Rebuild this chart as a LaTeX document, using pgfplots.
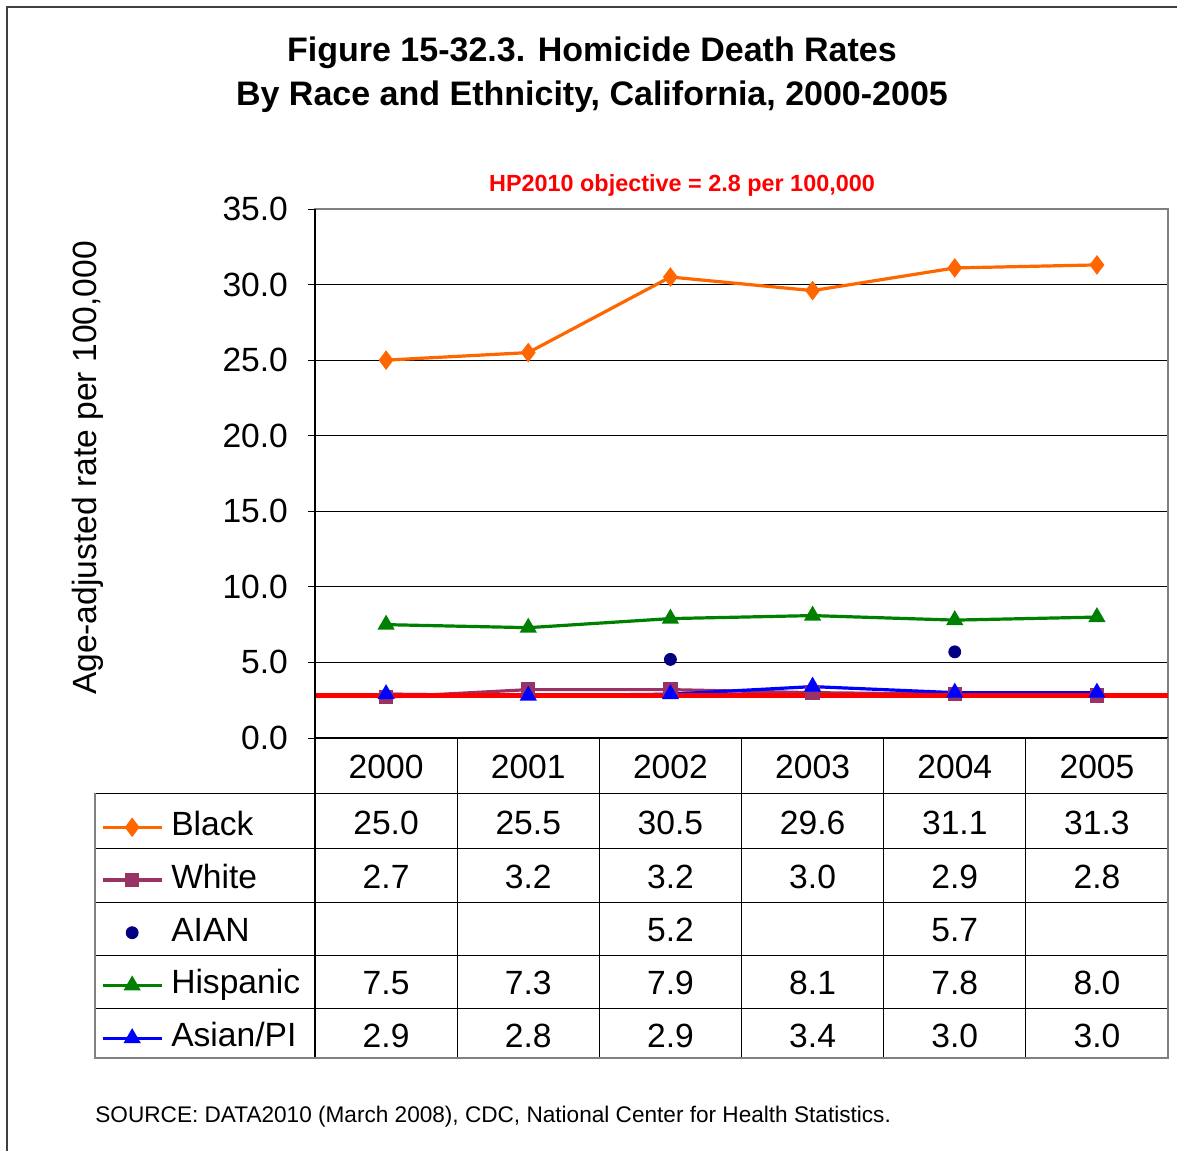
\documentclass[border=0pt]{standalone}
\usepackage{fontspec}
\setmainfont{Liberation Sans}
\usepackage{pgfplots}
\pgfplotsset{compat=1.18}

\definecolor{cBlack}{RGB}{255,102,0}
\definecolor{cWhite}{RGB}{153,51,102}
\definecolor{cAIAN}{RGB}{0,0,128}
\definecolor{cHisp}{RGB}{0,128,0}
\definecolor{cAsian}{RGB}{0,0,255}
\definecolor{frame}{RGB}{128,128,128}
\newcommand{\mainsize}{\fontsize{16.8}{20}\selectfont}
\pgfplotsset{
  linekey/.style={legend image code/.code={\draw[##1, mark repeat=2, mark phase=2] plot coordinates {(0pt,0pt) (14.75pt,0pt) (29.5pt,0pt)};}},
  dotkey/.style={legend image code/.code={\draw[##1] plot coordinates {(14.75pt,0pt)};}},
}

\begin{document}
\begin{tikzpicture}
\begin{axis}[
  scale only axis, width=426.5pt, height=264.5pt,
  xmin=-0.5, xmax=5.5, ymin=0, ymax=35,
  xtick=\empty, ytick={0,5,...,35},
  ymajorgrids, grid style={black, line width=0.5pt},
  ytick pos=left, tick align=outside, major tick length=3.5pt,
  tick style={black, line width=0.5pt},
  axis line style={frame, line width=1pt},
  /pgf/number format/fixed, /pgf/number format/fixed zerofill,
  /pgf/number format/precision=1, /pgf/number format/assume math mode=true,
  yticklabel style={font=\mainsize, xshift=-6.5pt},
  legend style={at={(-0.2508,-0.1190)}, anchor=north west, draw=none, fill=none,
    inner sep=0pt, outer sep=0pt, row sep=0pt, column sep=4pt, font=\mainsize,
    nodes={inner sep=0pt, minimum height=26.35pt, text height=12pt, text depth=3.5pt}},
  legend cell align=left,
  linekey,
]
\addplot[cBlack, line width=1.6pt, mark=diamond*, mark size=3.6pt, mark options={solid}]
  coordinates {(0,25.0) (1,25.5) (2,30.5) (3,29.6) (4,31.1) (5,31.3)};
\addlegendentry{Black}
\addplot[cWhite, line width=1.6pt, mark=square*, mark size=2.8pt, mark options={solid}]
  coordinates {(0,2.7) (1,3.2) (2,3.2) (3,3.0) (4,2.9) (5,2.8)};
\addlegendentry{White}
\addplot[cAIAN, only marks, mark=*, mark size=3pt, dotkey]
  coordinates {(2,5.2) (4,5.7)};
\addlegendentry{AIAN}
\addplot[cHisp, line width=1.6pt, mark=triangle*, mark size=3.4pt, mark options={solid}]
  coordinates {(0,7.5) (1,7.3) (2,7.9) (3,8.1) (4,7.8) (5,8.0)};
\addlegendentry{Hispanic}
\addplot[cAsian, line width=1.6pt, mark=triangle*, mark size=3.4pt, mark options={solid}]
  coordinates {(0,2.9) (1,2.8) (2,2.9) (3,3.4) (4,3.0) (5,3.0)};
\addlegendentry{Asian/PI}
% HP2010 objective
\addplot[red, line width=2.5pt, forget plot] coordinates {(-0.5,2.8) (5.5,2.8)};
\end{axis}

% pixel-based layout of the surrounding text and data table
\begin{scope}[x=0.5pt, y=-0.5pt, shift={(-157.5pt,369pt)}]
\useasboundingbox (0,0) rectangle (1177,1151);
\draw[black!75, line width=1pt] (7,1151) -- (7,7) -- (1177,7);
\node[anchor=base, font=\fontsize{17}{20}\selectfont\bfseries] at (592,62) {Figure 15-32.3. Homicide Death Rates};
\node[anchor=base, font=\fontsize{17}{20}\selectfont\bfseries] at (592,106) {By Race and Ethnicity, California, 2000-2005};
\node[anchor=base, text=red, font=\fontsize{11.7}{14}\selectfont\bfseries] at (682,192) {HP2010 objective = 2.8 per 100,000};
\node[rotate=90, font=\mainsize] at (88,468) {Age-adjusted rate per 100,000};
\node[anchor=base west, inner sep=0pt, font=\fontsize{11.3}{14}\selectfont] at (95,1122) {SOURCE: DATA2010 (March 2008), CDC, National Center for Health Statistics.};
% table grid
\draw[black, line width=0.6pt] (315,209) -- (315,1058);
\draw[black, line width=0.6pt] (315,738) -- (1168,738);
\foreach \x in {457.17,599.33,741.5,883.67,1025.83}
  \draw[black, line width=0.5pt] (\x,738) -- (\x,1058);
\foreach \y in {793,848,902,955,1008}
  \draw[black, line width=0.5pt] (95,\y) -- (1168,\y);
\draw[frame, line width=1pt] (1168,738) -- (1168,1058) -- (95,1058) -- (95,793);
% table text
\foreach \t [count=\i from 0] in {2000,2001,2002,2003,2004,2005}
  \node[anchor=base, font=\mainsize] at ({386.08+142.17*\i},778) {\t};
\foreach \t [count=\i from 0] in {25.0,25.5,30.5,29.6,31.1,31.3}
  \node[anchor=base, font=\mainsize] at ({386.08+142.17*\i},834) {\t};
\foreach \t [count=\i from 0] in {2.7,3.2,3.2,3.0,2.9,2.8}
  \node[anchor=base, font=\mainsize] at ({386.08+142.17*\i},888) {\t};
\node[anchor=base, font=\mainsize] at ({386.08+142.17*2},941) {5.2};
\node[anchor=base, font=\mainsize] at ({386.08+142.17*4},941) {5.7};
\foreach \t [count=\i from 0] in {7.5,7.3,7.9,8.1,7.8,8.0}
  \node[anchor=base, font=\mainsize] at ({386.08+142.17*\i},994) {\t};
\foreach \t [count=\i from 0] in {2.9,2.8,2.9,3.4,3.0,3.0}
  \node[anchor=base, font=\mainsize] at ({386.08+142.17*\i},1047) {\t};
\end{scope}
\end{tikzpicture}
\end{document}
